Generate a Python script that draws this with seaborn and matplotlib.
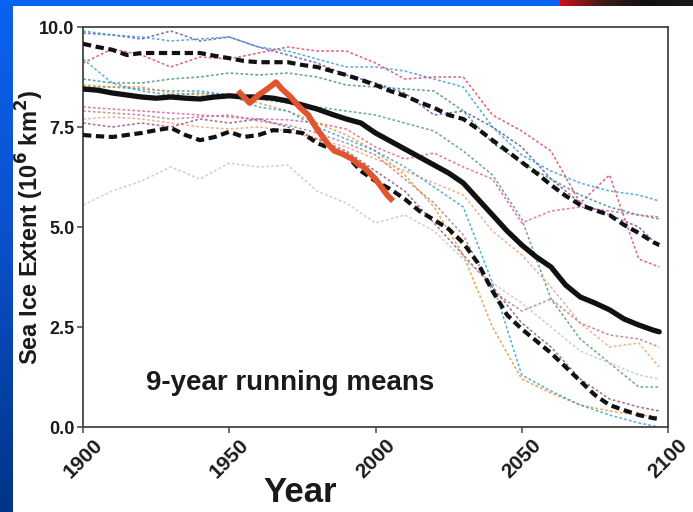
import numpy as np
import pandas as pd
import matplotlib
matplotlib.use("Agg")
import matplotlib.pyplot as plt
import matplotlib.transforms as mtransforms
import seaborn as sns

# ---- data -------------------------------------------------------------
# 5-year grid for the ensemble mean and the model range envelope
YEARS5 = [1900, 1905, 1910, 1915, 1920, 1925, 1930, 1935, 1940, 1945,
          1950, 1955, 1960, 1965, 1970, 1975, 1980, 1985, 1990, 1995,
          2000, 2005, 2010, 2015, 2020, 2025, 2030, 2035, 2040, 2045,
          2050, 2055, 2060, 2065, 2070, 2075, 2080, 2085, 2090, 2095, 2097]

ensemble_mean = [8.45, 8.42, 8.35, 8.30, 8.25, 8.22, 8.25, 8.22, 8.20, 8.25,
                 8.28, 8.25, 8.25, 8.22, 8.15, 8.05, 7.95, 7.82, 7.70, 7.60,
                 7.35, 7.15, 6.95, 6.75, 6.55, 6.35, 6.10, 5.70, 5.30, 4.90,
                 4.55, 4.25, 4.00, 3.55, 3.25, 3.10, 2.93, 2.70, 2.55, 2.42, 2.38]

range_upper = [9.58, 9.50, 9.43, 9.30, 9.35, 9.35, 9.35, 9.35, 9.35, 9.28,
               9.22, 9.15, 9.12, 9.12, 9.12, 9.05, 9.00, 8.90, 8.80, 8.68,
               8.55, 8.40, 8.28, 8.12, 7.98, 7.80, 7.70, 7.45, 7.17, 6.90,
               6.62, 6.35, 6.05, 5.78, 5.55, 5.42, 5.30, 5.05, 4.85, 4.62, 4.55]

range_lower = [7.30, 7.27, 7.25, 7.30, 7.35, 7.42, 7.48, 7.30, 7.17, 7.25,
               7.38, 7.25, 7.30, 7.42, 7.40, 7.35, 7.10, 6.95, 6.80, 6.40,
               6.15, 5.95, 5.70, 5.40, 5.18, 4.95, 4.60, 4.10, 3.40, 2.80,
               2.45, 2.15, 1.85, 1.50, 1.15, 0.80, 0.55, 0.42, 0.30, 0.22, 0.20]

# observed record (9-year running mean)
OBS_YEARS = [1953, 1955, 1957, 1960, 1963, 1966, 1968, 1971, 1974, 1977,
             1980, 1982, 1984, 1986, 1988, 1990, 1992, 1994, 1996, 1998,
             2000, 2002, 2004, 2006]
observed = [8.40, 8.25, 8.10, 8.30, 8.45, 8.62, 8.45, 8.25, 8.00, 7.80,
            7.45, 7.25, 7.05, 6.90, 6.85, 6.78, 6.70, 6.58, 6.50, 6.35,
            6.20, 6.00, 5.80, 5.65]

# individual model runs on a 10-year grid
YEARS10 = [1900, 1910, 1920, 1930, 1940, 1950, 1960, 1970, 1980, 1990,
           2000, 2010, 2020, 2030, 2040, 2050, 2060, 2070, 2080, 2090, 2097]

run_purple = [9.85, 9.80, 9.70, 9.90, 9.65, 9.75, 9.50, 9.30, 9.10, 8.80,
              8.60, 8.35, 7.80, 7.90, 7.50, 7.00, 6.20, 5.60, 5.30, 5.00, 4.50]
run_blue_hi = [9.90, 9.80, 9.75, 9.65, 9.70, 9.75, 9.50, 9.40, 9.20, 9.00,
               9.00, 8.90, 8.70, 8.50, 7.50, 6.80, 6.40, 6.10, 5.90, 5.80, 5.65]
run_red = [9.10, 9.45, 9.30, 9.00, 9.25, 9.20, 9.35, 9.50, 9.40, 9.40,
           9.10, 8.70, 8.75, 8.75, 7.80, 7.40, 6.90, 5.60, 6.30, 4.20, 4.00]
run_teal_hi = [8.70, 8.60, 8.60, 8.70, 8.75, 8.85, 8.80, 8.85, 8.75, 8.55,
               8.50, 8.45, 8.40, 7.90, 7.10, 6.60, 6.20, 5.80, 5.50, 5.30, 5.20]
run_teal_lo = [8.50, 8.50, 8.45, 8.40, 8.40, 8.30, 8.20, 8.10, 8.00, 7.90,
               7.80, 7.60, 7.40, 6.90, 6.30, 5.20, 3.20, 2.20, 1.60, 1.00, 1.00]
run_magenta = [8.00, 7.95, 7.90, 7.85, 7.80, 7.75, 7.70, 7.68, 7.60, 7.45,
               7.00, 6.70, 6.85, 6.50, 6.20, 5.10, 5.40, 5.50, 5.40, 5.30, 5.25]
run_orange = [8.55, 8.50, 8.50, 8.35, 8.30, 8.30, 8.10, 7.90, 7.60, 7.30,
              6.90, 6.30, 5.50, 4.30, 2.50, 1.20, 0.85, 0.55, 0.40, 0.30, 0.25]
run_salmon = [7.70, 7.75, 7.70, 7.60, 7.50, 7.45, 7.50, 7.40, 7.20, 7.00,
              6.70, 6.40, 6.10, 5.80, 4.90, 4.30, 3.50, 2.60, 2.00, 2.10, 1.50]
run_blue_lo = [9.20, 8.60, 8.40, 8.30, 8.35, 8.30, 8.00, 7.90, 7.50, 7.20,
               6.90, 6.50, 6.00, 5.50, 3.60, 1.30, 0.90, 0.55, 0.30, 0.10, 0.00]
run_mauve = [7.60, 7.50, 7.60, 7.50, 7.70, 7.60, 7.70, 7.50, 7.20, 6.90,
             6.40, 5.90, 5.10, 4.30, 3.50, 2.60, 2.00, 1.20, 0.70, 0.50, 0.40]
run_rose = [7.90, 7.85, 7.80, 7.70, 7.75, 7.80, 7.65, 7.55, 7.35, 7.10,
            6.80, 6.20, 5.60, 4.80, 3.40, 2.90, 3.20, 2.60, 2.30, 2.20, 2.00]
run_gray = [5.55, 5.90, 6.15, 6.50, 6.20, 6.60, 6.50, 6.55, 5.90, 5.60,
            5.10, 5.30, 4.90, 4.20, 3.60, 3.10, 2.50, 1.90, 1.60, 1.30, 1.20]

RUN_COLORS = {
    "purple": "#5b4aa3", "blue_hi": "#2b9bd6", "red": "#e33b5f",
    "teal_hi": "#3b8c73", "teal_lo": "#4a9482", "magenta": "#e0559f",
    "orange": "#f08f2e", "salmon": "#f5a070", "blue_lo": "#2a9fd9",
    "mauve": "#8d4f70", "rose": "#b07888", "gray": "#c4c4c4",
}
RUNS = {
    "purple": run_purple, "blue_hi": run_blue_hi, "red": run_red,
    "teal_hi": run_teal_hi, "teal_lo": run_teal_lo, "magenta": run_magenta,
    "orange": run_orange, "salmon": run_salmon, "blue_lo": run_blue_lo,
    "mauve": run_mauve, "rose": run_rose, "gray": run_gray,
}

Y_TICKS = [0.0, 2.5, 5.0, 7.5, 10.0]
X_TICKS = [1900, 1950, 2000, 2050, 2100]

# ---- figure -----------------------------------------------------------
sns.set_theme(style="white")
plt.rcParams["font.family"] = ["Liberation Sans", "DejaVu Sans"]
plt.rcParams["mathtext.default"] = "bf"

W, H = 693, 512
fig = plt.figure(figsize=(W / 100, H / 100), dpi=100, facecolor="white")

# slide frame: blue band along the top and a darkening blue strip on the left
bg = fig.add_axes([0, 0, 1, 1], zorder=-5)
bg.set_xlim(0, W)
bg.set_ylim(H, 0)
bg.axis("off")
grad = np.linspace(0, 1, 256)[:, None]
left_cmap = matplotlib.colors.LinearSegmentedColormap.from_list(
    "strip", ["#0a62f2", "#0a4fc8", "#003486"])
bg.imshow(grad, cmap=left_cmap, extent=(0, 13, H, 0), aspect="auto")
bg.add_patch(plt.Rectangle((0, 0), 560, 6, color="#0864f0", lw=0))
top_cmap = matplotlib.colors.LinearSegmentedColormap.from_list(
    "corner", ["#d0101a", "#3a1a1a", "#101010", "#1a1a1a"])
bg.imshow(np.linspace(0, 1, 256)[None, :], cmap=top_cmap,
          extent=(560, W, 6, 0), aspect="auto")

ax = fig.add_axes([83 / W, 1 - 427 / H, 585 / W, 400 / H])
ax.set_facecolor("white")

thin_style = dict(lw=1.15, linestyle=(0, (1.7, 1.4)), alpha=0.8)
for name, vals in RUNS.items():
    sns.lineplot(x=YEARS10, y=vals, ax=ax, color=RUN_COLORS[name],
                 zorder=2, **thin_style)

dash_style = dict(color="#111111", lw=3.0, linestyle=(0, (2.0, 1.1)))
sns.lineplot(x=YEARS5, y=range_upper, ax=ax, zorder=3, **dash_style)
sns.lineplot(x=YEARS5, y=range_lower, ax=ax, zorder=3, **dash_style)
sns.lineplot(x=YEARS5, y=ensemble_mean, ax=ax, color="#111111", lw=3.8,
             zorder=4)
sns.lineplot(x=OBS_YEARS, y=observed, ax=ax, color="#e0552f", lw=4.2,
             zorder=5, solid_capstyle="butt")

ax.set_xlim(1900, 2100)
ax.set_ylim(0, 10)
ax.set_xticks(X_TICKS)
ax.set_yticks(Y_TICKS)
ax.set_xticklabels([str(t) for t in X_TICKS], rotation=45, ha="center",
                   fontsize=15, fontweight="bold", color="#1a1a1a")
shift = mtransforms.ScaledTranslation(5 / 100, 0, fig.dpi_scale_trans)
for lab in ax.get_xticklabels():
    lab.set_transform(lab.get_transform() + shift)
ax.set_yticklabels([f"{t:.1f}" for t in Y_TICKS], fontsize=13,
                   fontweight="bold", color="#1a1a1a")
ax.tick_params(axis="both", direction="out", length=4, width=1.2,
               color="#555555", pad=2, left=True, bottom=True)
for s in ax.spines.values():
    s.set_color("#444444")
    s.set_linewidth(1.3)

ax.set_xlabel("Year", fontsize=25, fontweight="bold", color="#1a1a1a")
ax.xaxis.set_label_coords((300 - 83) / 585, -0.122)
ax.set_ylabel("Sea Ice Extent (10$^6$ km$^2$)", fontsize=17,
              fontweight="bold", color="#1a1a1a")
ax.yaxis.set_label_coords((46 - 83) / 585, 0.5)

ax.text((290 - 83) / 585, 0.11, "9-year running means", transform=ax.transAxes,
        ha="center", va="center", fontsize=20, fontweight="bold",
        color="#1a1a1a")

fig.savefig("out.png", dpi=100, facecolor="white")
